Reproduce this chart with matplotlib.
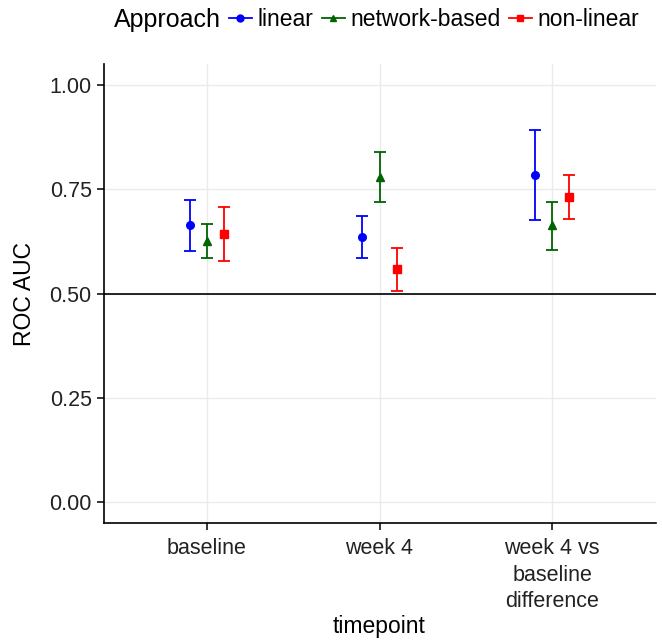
import numpy as np
import matplotlib.pyplot as plt
from matplotlib.lines import Line2D

plt.rcParams['font.family'] = ['Liberation Sans', 'DejaVu Sans']

timepoints = ['baseline', 'week 4', 'week 4 vs\nbaseline\ndifference']
approaches = ['linear', 'network-based', 'non-linear']
colors = ['#0000ff', '#006400', '#ff0000']
markers = ['o', '^', 's']

# ROC AUC point estimates and interval bounds, per approach across timepoints
auc = {
    'linear': [0.664, 0.636, 0.783],
    'network-based': [0.627, 0.779, 0.663],
    'non-linear': [0.643, 0.558, 0.731],
}
lower = {
    'linear': [0.603, 0.586, 0.675],
    'network-based': [0.586, 0.720, 0.604],
    'non-linear': [0.579, 0.505, 0.679],
}
upper = {
    'linear': [0.724, 0.686, 0.893],
    'network-based': [0.667, 0.839, 0.720],
    'non-linear': [0.707, 0.608, 0.783],
}


def main():
    fig = plt.figure(figsize=(6.62, 6.41), dpi=100)
    ax = fig.add_axes([103.5 / 662, 118 / 641, 552 / 662, 459 / 641])

    x = np.arange(len(timepoints))
    offsets = [-0.1, 0.0, 0.1]

    ax.axhline(0.5, color='black', lw=1.2, zorder=2)

    for name, col, mk, off in zip(approaches, colors, markers, offsets):
        y = np.array(auc[name])
        err = [y - np.array(lower[name]), np.array(upper[name]) - y]
        ax.errorbar(x + off, y, yerr=err, fmt=mk, color=col, ecolor=col,
                    elinewidth=1.3, capsize=4.3, capthick=1.3,
                    markersize=5.5, zorder=3)

    ax.set_xlim(-0.6, 2.6)
    ax.set_ylim(-0.05, 1.05)
    ax.set_xticks(x)
    ax.set_xticklabels(timepoints, linespacing=1.35)
    ax.set_yticks([0, 0.25, 0.5, 0.75, 1.0])
    ax.set_yticklabels(['0.00', '0.25', '0.50', '0.75', '1.00'])

    ax.grid(True, color='#ebebeb', lw=1.0, zorder=0)
    ax.set_axisbelow(True)
    for s in ['top', 'right']:
        ax.spines[s].set_visible(False)
    for s in ['left', 'bottom']:
        ax.spines[s].set_linewidth(1.2)
    ax.tick_params(axis='both', length=5, width=1.1, labelsize=15.5,
                   labelcolor='#222222', pad=3.5)
    ax.tick_params(axis='x', pad=6)

    ax.set_xlabel('timepoint', fontsize=16.5, va='center')
    ax.xaxis.set_label_coords(0.5, (523 - 627) / 459)
    ax.set_ylabel('ROC AUC', fontsize=16.5, va='center')
    ax.yaxis.set_label_coords((25 - 103.5) / 552, 0.5)

    handles = [Line2D([0], [0], color=c, marker=m, markersize=5, lw=1.3)
               for c, m in zip(colors, markers)]
    fig.text(114 / 662, 1 - 20 / 641, 'Approach', fontsize=18,
             ha='left', va='center')
    fig.legend(handles, approaches, loc='center left',
               bbox_to_anchor=(229 / 662, 1 - 20 / 641), ncol=3, frameon=False,
               fontsize=16.5, handlelength=1.0, handletextpad=0.26,
               columnspacing=0.35, borderpad=0, borderaxespad=0)

    fig.savefig('out.png', dpi=100)


if __name__ == '__main__':
    main()
